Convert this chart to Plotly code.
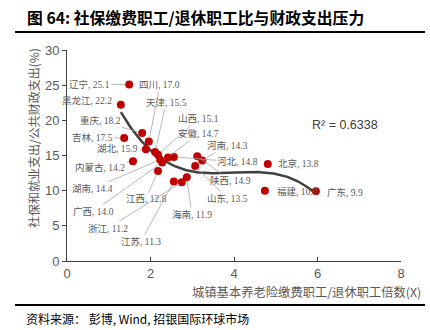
import numpy as np
import plotly.graph_objects as go

# ---------------- data ----------------
provinces = ["辽宁", "黑龙江", "吉林", "重庆", "四川", "湖北", "天津", "山西",
             "内蒙古", "湖南", "广西", "江西", "安徽", "河北", "陕西", "河南",
             "山东", "江苏", "浙江", "海南", "北京", "福建", "广东"]
worker_ratio = [1.49, 1.29, 1.37, 1.80, 1.96, 1.89, 2.11, 2.18,
                1.58, 2.23, 2.28, 2.18, 2.42, 2.56, 3.12, 3.24,
                3.07, 2.56, 2.75, 2.87, 4.81, 4.74, 5.96]
spend_share = [25.1, 22.2, 17.5, 18.2, 17.0, 15.9, 15.5, 15.1,
               14.2, 14.4, 14.0, 12.8, 14.7, 14.8, 14.9, 14.3,
               13.5, 11.3, 11.2, 11.9, 13.8, 10.0, 9.9]
label_texts = ["25.1", "22.2", "17.5", "18.2", "17.0", "15.9", "15.5", "15.1",
               "14.2", "14.4", "14.0", "12.8", "14.7", "14.8", "14.9", "14.3",
               "13.5", "11.3", "11.2", "11.9", "13.8", "10.0", "9.9"]
x_ticks = [0, 2, 4, 6, 8]
y_ticks = [0, 5, 10, 15, 20, 25, 30]
r2_text = "R² = 0.6338"

# label placement (pixel offsets from point to label centre, leader on/off)
label_offsets = {
    "辽宁": (-40, 0, True), "黑龙江": (-34, -4, False), "吉林": (-32, 0, True),
    "重庆": (-42, -12, True), "四川": (11, -56, True), "湖北": (-28, 0, True),
    "天津": (11, -49, True), "山西": (40, -36, True), "内蒙古": (-33, 6, True),
    "湖南": (-68, 29, True), "广西": (-69, 49, True), "江西": (-12, 28, True),
    "安徽": (30, -24, True), "河北": (64, 5, True), "陕西": (33, 24, True),
    "河南": (25, -15, True), "山东": (32, 32, True), "江苏": (-33, 60, True),
    "浙江": (-74, 46, True), "海南": (5, 37, True), "北京": (31, 0, False),
    "福建": (33, 1, False), "广东": (29, 1, False),
}

# ---------------- geometry ----------------
W, H = 430, 330
L, R, T, B = 67, 401, 50, 261


def px_x(p):
    return (p - L) / (R - L)


def px_y(p):
    return (B - p) / (B - T)


SANS = "Liberation Sans, Arial, Noto Sans CJK SC, sans-serif"
SERIF = "Liberation Serif, Noto Sans CJK SC, serif"
CJK = "Noto Sans CJK SC, Liberation Sans, sans-serif"
GRAY = "#595959"

fig = go.Figure()

# trend line (cubic polynomial fitted to the data)
coef = np.polyfit(worker_ratio, spend_share, 3)
xs = np.linspace(min(worker_ratio), max(worker_ratio), 200)
fig.add_trace(go.Scatter(x=xs, y=np.polyval(coef, xs), mode="lines",
                         line=dict(color="#404040", width=2.5),
                         hoverinfo="skip", showlegend=False))

fig.add_trace(go.Scatter(x=worker_ratio, y=spend_share, mode="markers",
                         marker=dict(color="#C00000", size=8),
                         text=provinces, showlegend=False))

annotations = []
for name, xv, yv, lt in zip(provinces, worker_ratio, spend_share, label_texts):
    ax, ay, lead = label_offsets[name]
    annotations.append(dict(
        x=xv, y=yv, xref="x", yref="y", text=f"{name}, {lt}",
        showarrow=True, ax=ax, ay=ay, axref="pixel", ayref="pixel",
        arrowhead=0, arrowwidth=0.8, standoff=4,
        arrowcolor="#A6A6A6" if lead else "rgba(0,0,0,0)",
        font=dict(family=SERIF, size=9.5, color=GRAY)))

annotations += [
    dict(x=px_x(25), y=px_y(17), xref="paper", yref="paper", xanchor="left",
         yanchor="middle", showarrow=False,
         text="<b>图 64: 社保缴费职工/退休职工比与财政支出压力</b>",
         font=dict(family=CJK, size=15.8, color="#000000")),
    dict(x=px_x(24), y=px_y(329), xref="paper", yref="paper", xanchor="left",
         yanchor="bottom", showarrow=False,
         text="资料来源： 彭博, Wind, 招银国际环球市场",
         font=dict(family=CJK, size=12, color="#000000")),
    dict(x=px_x(33), y=px_y(138), xref="paper", yref="paper", xanchor="center",
         yanchor="middle", showarrow=False, textangle=-90,
         text="社保和就业支出/公共财政支出(%)",
         font=dict(family=CJK, size=12, color=GRAY)),
    dict(x=px_x(423), y=px_y(292), xref="paper", yref="paper", xanchor="right",
         yanchor="middle", showarrow=False,
         text="城镇基本养老险缴费职工/退休职工倍数(X)",
         font=dict(family=CJK, size=12.3, color=GRAY)),
    dict(x=px_x(345), y=px_y(125), xref="paper", yref="paper", xanchor="center",
         yanchor="middle", showarrow=False, text=r2_text,
         font=dict(family=SANS, size=12.5, color="#404040")),
]

shapes = [
    dict(type="line", xref="paper", yref="paper", x0=px_x(15), x1=px_x(425),
         y0=px_y(32), y1=px_y(32), line=dict(color="#000000", width=2)),
    dict(type="line", xref="paper", yref="paper", x0=px_x(15), x1=px_x(425),
         y0=px_y(305), y1=px_y(305), line=dict(color="#000000", width=2)),
]

fig.update_layout(
    width=W, height=H, autosize=False,
    margin=dict(l=L, r=W - R, t=T, b=H - B, pad=0),
    paper_bgcolor="white", plot_bgcolor="white",
    annotations=annotations, shapes=shapes, showlegend=False,
    xaxis=dict(range=[0, 8], tickvals=x_ticks, showgrid=False, zeroline=False,
               showline=True, linecolor="#404040", linewidth=1,
               ticks="inside", ticklen=4, tickcolor="#404040",
               tickfont=dict(family=SANS, size=13, color=GRAY)),
    yaxis=dict(range=[0, 30], tickvals=y_ticks, showgrid=False, zeroline=False,
               showline=True, linecolor="#404040", linewidth=1,
               ticks="outside", ticklen=4, tickcolor="#404040",
               tickfont=dict(family=SANS, size=13, color=GRAY)),
)

fig.write_html("out.html")
